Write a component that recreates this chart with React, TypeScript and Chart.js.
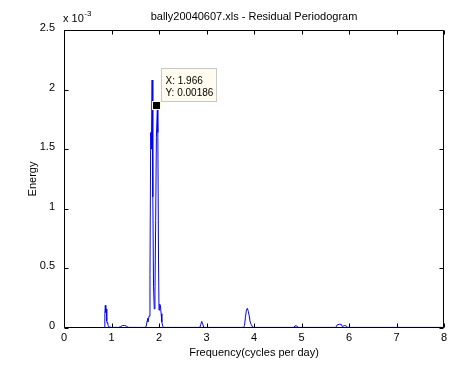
import React, { useEffect, useRef } from "react";
import { Chart, registerables } from "chart.js";

Chart.register(...registerables);

// Frequency (cycles per day)
const freq = [
  0.85, 0.86, 0.87, 0.88, 0.89, 0.9, 0.91, 0.92, 0.93, 0.95, 1.0, 1.15, 1.19, 1.23, 1.27, 1.31, 1.35, 1.4,
  1.7, 1.73, 1.75, 1.76, 1.77, 1.79, 1.81, 1.825, 1.84, 1.855, 1.87, 1.885, 1.9, 1.915, 1.93, 1.945,
  1.966, 1.975, 1.99, 2.0, 2.015, 2.03, 2.045, 2.06, 2.08, 2.1, 2.86, 2.88, 2.9, 2.92, 2.94, 2.96,
  3.78, 3.8, 3.82, 3.84, 3.86, 3.88, 3.9, 3.92, 3.94, 3.97, 4.0, 4.84, 4.86, 4.9, 4.93,
  5.72, 5.75, 5.8, 5.84, 5.86, 5.9, 5.94, 5.97, 8.0,
];
// Energy, in units of 10^-3
const energy = [
  0.01, 0.12, 0.19, 0.13, 0.16, 0.06, 0.04, 0.045, 0.02, 0.008, 0.005, 0.005, 0.012, 0.02, 0.022, 0.016, 0.006, 0.005,
  0.005, 0.012, 0.06, 0.08, 0.05, 0.1, 0.45, 1.64, 1.5, 2.08, 1.1, 0.35, 0.16, 0.3, 0.9, 1.6,
  1.86, 1.64, 0.57, 0.15, 0.2, 0.19, 0.12, 0.05, 0.015, 0.005, 0.005, 0.03, 0.055, 0.035, 0.008, 0.005,
  0.005, 0.02, 0.09, 0.15, 0.165, 0.14, 0.1, 0.05, 0.03, 0.008, 0.005, 0.005, 0.018, 0.018, 0.005,
  0.005, 0.025, 0.032, 0.03, 0.012, 0.02, 0.018, 0.005, 0.005,
];

const xTicks = [0, 1, 2, 3, 4, 5, 6, 7, 8];
const yTicks = [0, 0.5, 1, 1.5, 2, 2.5];
const yTickLabels = ["0", "0.5", "1", "1.5", "2", "2.5"];

const titleText = "bally20040607.xls - Residual Periodogram";
const xLabel = "Frequency(cycles per day)";
const yLabel = "Energy";
const tipX = 1.966;
const tipY = 1.86;
const tipLabels = ["X: 1.966", "Y: 0.00186"];

const FONT = "'Liberation Sans', Arial, Helvetica, sans-serif";

export default function App() {
  const ref = useRef<HTMLCanvasElement | null>(null);

  useEffect(() => {
    document.body.style.margin = "0";
    const canvas = ref.current;
    if (!canvas) return;

    const decor = {
      id: "matlabDecor",
      afterDraw(chart: any) {
        const ctx = chart.ctx as CanvasRenderingContext2D;
        const { left, right, top, bottom } = chart.chartArea;
        const xs = chart.scales.x;
        const ys = chart.scales.y;
        ctx.save();
        // frame
        ctx.strokeStyle = "#000";
        ctx.lineWidth = 1;
        const L = Math.round(left) + 0.5;
        const R = Math.round(right) - 0.5;
        const T = Math.round(top) + 0.5;
        const B = Math.round(bottom) - 0.5;
        ctx.beginPath();
        ctx.rect(L, T, R - L, B - T);
        ctx.stroke();
        // ticks
        ctx.beginPath();
        xTicks.forEach((v) => {
          const px = Math.round(xs.getPixelForValue(v)) + 0.5;
          ctx.moveTo(px, B);
          ctx.lineTo(px, B - 4);
          ctx.moveTo(px, T);
          ctx.lineTo(px, T + 4);
        });
        yTicks.forEach((v) => {
          const py = Math.round(ys.getPixelForValue(v)) + 0.5;
          ctx.moveTo(L, py);
          ctx.lineTo(L + 4, py);
          ctx.moveTo(R, py);
          ctx.lineTo(R - 4, py);
        });
        ctx.stroke();

        // texts
        ctx.fillStyle = "#000";
        ctx.font = `11px ${FONT}`;
        ctx.textAlign = "center";
        ctx.textBaseline = "alphabetic";
        ctx.fillText(titleText, (left + right) / 2, 20);
        ctx.fillText(xLabel, (left + right) / 2, 356);
        ctx.save();
        ctx.translate(36, (top + bottom) / 2);
        ctx.rotate(-Math.PI / 2);
        ctx.textBaseline = "alphabetic";
        ctx.fillText(yLabel, 0, 0);
        ctx.restore();
        // x 10^-3
        ctx.textAlign = "left";
        ctx.font = `11px ${FONT}`;
        ctx.fillText("x 10", left - 1, 22);
        const w = ctx.measureText("x 10").width;
        ctx.font = `8px ${FONT}`;
        ctx.fillText("-3", left - 1 + w + 0.5, 16);

        // datatip
        const mx = xs.getPixelForValue(tipX);
        const my = ys.getPixelForValue(tipY);
        const bx = Math.round(mx + 4) + 0.5;
        const by = Math.round(my - 38) + 0.5;
        ctx.fillStyle = "#fffbef";
        ctx.fillRect(bx, by, 55, 33);
        ctx.strokeStyle = "#c8c8c8";
        ctx.strokeRect(bx, by, 55, 33);
        ctx.fillStyle = "#000";
        ctx.font = `10px ${FONT}`;
        ctx.textAlign = "left";
        ctx.fillText(tipLabels[0], bx + 4, by + 15);
        ctx.fillText(tipLabels[1], bx + 4, by + 27);
        // marker
        const cx = Math.round(mx);
        const cy = Math.round(my);
        ctx.fillStyle = "#ffffc0";
        ctx.fillRect(cx - 5, cy - 5, 9, 9);
        ctx.fillStyle = "#000";
        ctx.fillRect(cx - 4, cy - 4, 7, 7);
        ctx.restore();
      },
    };

    const chart = new Chart(canvas, {
      type: "scatter",
      data: {
        datasets: [
          {
            data: freq.map((f, i) => ({ x: f, y: energy[i] })),
            showLine: true,
            borderColor: "#0000ff",
            borderWidth: 1,
            pointRadius: 0,
            tension: 0,
          },
        ],
      },
      options: {
        animation: false,
        responsive: false,
        events: [],
        layout: { padding: { left: 0, right: 15, top: 30, bottom: 0 } },
        plugins: { legend: { display: false }, tooltip: { enabled: false } },
        scales: {
          x: {
            type: "linear",
            min: 0,
            max: 8,
            grid: { display: false, drawTicks: false, tickLength: 0 },
            border: { display: false },
            ticks: {
              stepSize: 1,
              padding: 3,
              color: "#000",
              font: { size: 11, family: FONT },
              maxRotation: 0,
            },
            afterFit: (s: any) => {
              s.height = 37;
            },
          },
          y: {
            type: "linear",
            min: 0,
            max: 2.5,
            grid: { display: false, drawTicks: false, tickLength: 0 },
            border: { display: false },
            ticks: {
              stepSize: 0.5,
              padding: 9,
              labelOffset: -2,
              color: "#000",
              font: { size: 11, family: FONT },
              callback: (v: any) => {
                const i = yTicks.indexOf(Math.round(Number(v) * 10) / 10);
                return i >= 0 ? yTickLabels[i] : "";
              },
            },
            afterFit: (s: any) => {
              s.width = 64;
            },
          },
        },
      },
      plugins: [decor],
    });

    return () => chart.destroy();
  }, []);

  return (
    <canvas
      ref={ref}
      width={459}
      height={365}
      style={{ display: "block", width: 459, height: 365, background: "#fff" }}
    />
  );
}
